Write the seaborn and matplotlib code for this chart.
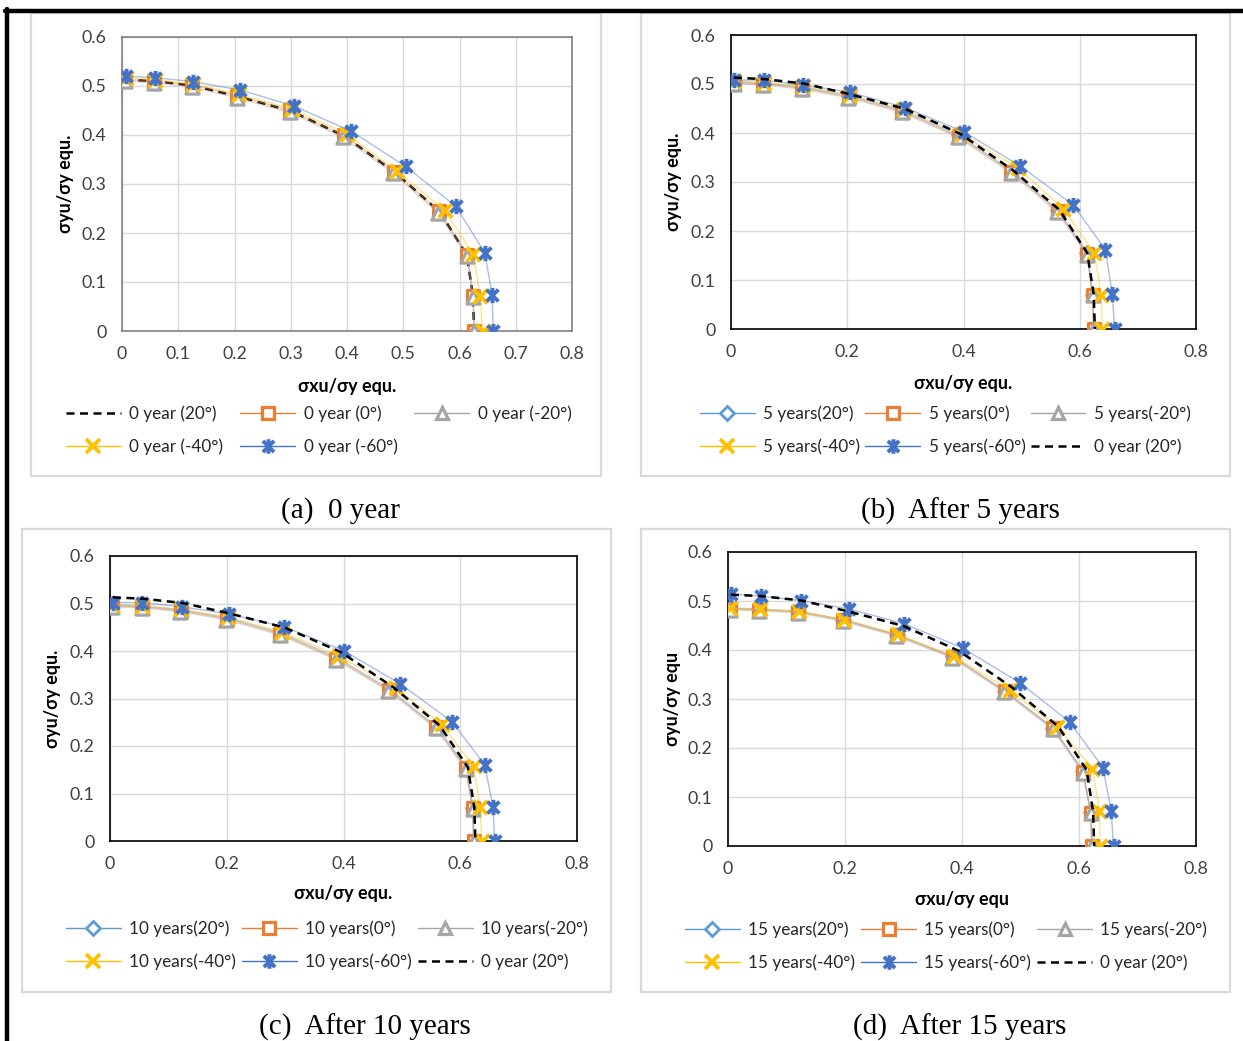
import matplotlib
matplotlib.use("Agg")
import matplotlib.pyplot as plt
import seaborn as sns
import pandas as pd
import numpy as np
from matplotlib.patches import Rectangle
from matplotlib.lines import Line2D
from matplotlib.path import Path

sns.set_theme(style="white")
plt.rcParams['font.family'] = ['Lato', 'DejaVu Sans']

# ---------------- data ----------------
# reference curve "0 year (20°)"
base_x = [0.005, 0.057, 0.125, 0.205, 0.300, 0.395, 0.485, 0.565, 0.613, 0.624, 0.626]
base_y = [0.513, 0.510, 0.501, 0.479, 0.449, 0.398, 0.324, 0.243, 0.155, 0.071, 0.0]

# panel (a) 0 year
a0_x = [0.005, 0.057, 0.125, 0.205, 0.298, 0.394, 0.484, 0.564, 0.614, 0.624, 0.626]
a0_y = [0.513, 0.510, 0.502, 0.480, 0.450, 0.399, 0.325, 0.244, 0.156, 0.072, 0.0]
am20_x = [0.005, 0.057, 0.124, 0.204, 0.298, 0.393, 0.482, 0.562, 0.613, 0.624, 0.626]
am20_y = [0.510, 0.507, 0.498, 0.476, 0.446, 0.395, 0.322, 0.241, 0.153, 0.070, 0.0]
am40_x = [0.007, 0.058, 0.127, 0.208, 0.302, 0.400, 0.488, 0.574, 0.624, 0.637, 0.641]
am40_y = [0.516, 0.513, 0.504, 0.483, 0.453, 0.402, 0.327, 0.246, 0.157, 0.072, 0.0]
am60_x = [0.007, 0.058, 0.126, 0.210, 0.306, 0.407, 0.504, 0.593, 0.645, 0.658, 0.660]
am60_y = [0.520, 0.517, 0.509, 0.492, 0.459, 0.408, 0.336, 0.255, 0.160, 0.073, 0.0]

# panel (b) 5 years
b20_x = [0.005, 0.055, 0.123, 0.203, 0.296, 0.393, 0.483, 0.563, 0.613, 0.622, 0.624]
b20_y = [0.505, 0.502, 0.494, 0.476, 0.446, 0.395, 0.323, 0.242, 0.155, 0.070, 0.0]
b0_x = [0.005, 0.055, 0.123, 0.203, 0.295, 0.392, 0.482, 0.562, 0.613, 0.622, 0.624]
b0_y = [0.503, 0.500, 0.492, 0.474, 0.444, 0.393, 0.321, 0.241, 0.154, 0.070, 0.0]
bm20_x = [0.005, 0.055, 0.122, 0.202, 0.294, 0.391, 0.481, 0.561, 0.612, 0.622, 0.624]
bm20_y = [0.501, 0.498, 0.490, 0.472, 0.442, 0.391, 0.319, 0.239, 0.152, 0.069, 0.0]
bm40_x = [0.006, 0.056, 0.124, 0.205, 0.298, 0.397, 0.494, 0.572, 0.625, 0.637, 0.639]
bm40_y = [0.506, 0.503, 0.495, 0.478, 0.448, 0.397, 0.328, 0.245, 0.155, 0.070, 0.0]
bm60_x = [0.005, 0.056, 0.124, 0.205, 0.299, 0.401, 0.497, 0.589, 0.644, 0.656, 0.660]
bm60_y = [0.508, 0.508, 0.498, 0.483, 0.452, 0.402, 0.333, 0.253, 0.162, 0.072, 0.0]

# panel (c) 10 years
c20_x = [0.000, 0.054, 0.121, 0.201, 0.293, 0.389, 0.479, 0.560, 0.611, 0.622, 0.624]
c20_y = [0.497, 0.495, 0.487, 0.470, 0.438, 0.386, 0.320, 0.240, 0.154, 0.070, 0.0]
c0_x = [0.003, 0.054, 0.121, 0.200, 0.292, 0.388, 0.478, 0.559, 0.610, 0.621, 0.623]
c0_y = [0.495, 0.493, 0.485, 0.468, 0.436, 0.384, 0.318, 0.239, 0.153, 0.069, 0.0]
cm20_x = [0.003, 0.054, 0.120, 0.199, 0.291, 0.387, 0.477, 0.558, 0.609, 0.621, 0.623]
cm20_y = [0.493, 0.491, 0.483, 0.466, 0.434, 0.382, 0.316, 0.237, 0.151, 0.068, 0.0]
cm40_x = [0.004, 0.055, 0.122, 0.202, 0.295, 0.392, 0.490, 0.568, 0.623, 0.634, 0.637]
cm40_y = [0.497, 0.495, 0.488, 0.471, 0.440, 0.389, 0.322, 0.246, 0.157, 0.071, 0.0]
cm60_x = [0.005, 0.055, 0.123, 0.204, 0.298, 0.400, 0.497, 0.586, 0.642, 0.656, 0.659]
cm60_y = [0.502, 0.502, 0.493, 0.478, 0.451, 0.401, 0.331, 0.251, 0.160, 0.072, 0.0]

# panel (d) 15 years
d20_x = [0.000, 0.053, 0.120, 0.197, 0.289, 0.384, 0.473, 0.556, 0.607, 0.620, 0.622]
d20_y = [0.486, 0.484, 0.479, 0.462, 0.431, 0.387, 0.317, 0.241, 0.153, 0.069, 0.0]
d0_x = [0.004, 0.053, 0.120, 0.197, 0.289, 0.384, 0.473, 0.556, 0.607, 0.620, 0.622]
d0_y = [0.484, 0.482, 0.478, 0.461, 0.430, 0.386, 0.316, 0.240, 0.152, 0.068, 0.0]
dm20_x = [0.004, 0.053, 0.119, 0.196, 0.288, 0.383, 0.472, 0.555, 0.606, 0.620, 0.622]
dm20_y = [0.482, 0.480, 0.476, 0.459, 0.428, 0.384, 0.314, 0.238, 0.150, 0.067, 0.0]
dm40_x = [0.004, 0.054, 0.121, 0.199, 0.291, 0.386, 0.482, 0.563, 0.623, 0.635, 0.636]
dm40_y = [0.485, 0.483, 0.479, 0.462, 0.432, 0.387, 0.318, 0.243, 0.158, 0.072, 0.0]
dm60_x = [0.005, 0.056, 0.124, 0.206, 0.300, 0.401, 0.499, 0.584, 0.641, 0.655, 0.659]
dm60_y = [0.514, 0.510, 0.501, 0.484, 0.454, 0.404, 0.333, 0.253, 0.160, 0.072, 0.0]

captions = ["(a)  0 year", "(b)  After 5 years", "(c)  After 10 years", "(d)  After 15 years"]
years = ["0 year", "5 years", "10 years", "15 years"]
angles = ["20°", "0°", "-20°", "-40°", "-60°"]
base_label = "0 year (20°)"

# ---------------- styles ----------------
# Excel-like asterisk: an X crossed by a vertical stroke
ASTERISK = Path([(-0.85, -0.85), (0.85, 0.85), (-0.85, 0.85), (0.85, -0.85), (0, -1.1), (0, 1.1)],
                [Path.MOVETO, Path.LINETO, Path.MOVETO, Path.LINETO, Path.MOVETO, Path.LINETO])

C20, C0, CM20, CM40, CM60 = "#5B9BD5", "#ED7D31", "#A5A5A5", "#FFC000", "#4472C4"
styles = {
    "20°": dict(color=C20, marker="D", mfc="white", ms=7, mew=2.0),
    "0°": dict(color=C0, marker="s", mfc="white", ms=9, mew=2.3),
    "-20°": dict(color=CM20, marker="^", mfc="white", ms=9.5, mew=2.3),
    "-40°": dict(color=CM40, marker="x", mfc="none", ms=10, mew=2.7),
    "-60°": dict(color=CM60, marker=ASTERISK, mfc="none", ms=11, mew=2.8),
}
FS = 12.3
LFS = 13

W, H = 1243, 1041
fig = plt.figure(figsize=(W / 100, H / 100), dpi=100)


def fx(px):
    return px / W


def fy(py):
    return 1 - py / H


def add_axes(x0, y0, x1, y1):
    return fig.add_axes([fx(x0), fy(y1), fx(x1) - fx(x0), (y1 - y0) / H])


def draw_series(ax, x, y, key, z):
    st = styles[key]
    df = pd.DataFrame({"x": x, "y": y})
    sns.lineplot(data=df, x="x", y="y", ax=ax, sort=False, estimator=None,
                 color=st["color"], lw=1.0, alpha=0.45, zorder=z)
    sns.scatterplot(data=df, x="x", y="y", ax=ax, marker=st["marker"], s=st["ms"] ** 2,
                    facecolor=st["mfc"] if st["mfc"] != "none" else st["color"],
                    edgecolor=st["color"], linewidth=st["mew"], zorder=z + 0.5, legend=False)


def draw_base(ax, z):
    df = pd.DataFrame({"x": base_x, "y": base_y})
    sns.lineplot(data=df, x="x", y="y", ax=ax, sort=False, estimator=None,
                 color="black", lw=1.8, zorder=z)
    ax.lines[-1].set_linestyle((0, (3.2, 2.2)))


def legend_handle(key, label):
    st = styles[key]
    if st["mfc"] == "none":
        return Line2D([], [], color=st["color"], lw=1.0, marker=st["marker"],
                      ms=st["ms"] * 0.95, mew=st["mew"], label=label)
    return Line2D([], [], color=st["color"], lw=1.0, marker=st["marker"], mfc="white",
                  mec=st["color"], ms=st["ms"] * 0.95, mew=st["mew"], label=label)


def style_axes(ax, xstep, spine_color, ylab, xlab, ylab_x, xlab_y):
    ax.set_xlim(0, 0.8)
    ax.set_ylim(0, 0.6)
    xt = np.round(np.arange(0, 0.8001, xstep), 2)
    ax.set_xticks(xt)
    ax.set_yticks([0, 0.1, 0.2, 0.3, 0.4, 0.5, 0.6])
    ax.set_xticklabels([f"{v:g}" for v in xt])
    ax.set_yticklabels(["0", "0.1", "0.2", "0.3", "0.4", "0.5", "0.6"])
    ax.grid(True, color="#D9D9D9", lw=1.0)
    ax.set_axisbelow(True)
    for s in ax.spines.values():
        s.set_visible(True)
        s.set_color(spine_color)
        s.set_linewidth(1.2)
    ax.tick_params(axis="both", length=0, labelsize=FS + 0.5, labelcolor="#404040", pad=11)
    ax.set_ylabel(ylab, fontsize=LFS, fontweight="bold", color="black")
    ax.set_xlabel(xlab, fontsize=LFS, fontweight="bold", color="black")
    ax.yaxis.set_label_coords(ylab_x, 0.5)
    ax.xaxis.set_label_coords(0.5, xlab_y)
    ax.set_facecolor("white")


def row_major(h):
    # matplotlib fills legend columns first; reorder so entries read row by row
    rows, ncol = 2, 3
    grid = [[None] * ncol for _ in range(rows)]
    for idx, item in enumerate(h):
        grid[idx // ncol][idx % ncol] = item
    out = []
    for c in range(ncol):
        for r in range(rows):
            if grid[r][c] is not None:
                out.append(grid[r][c])
    return out


# outer borders of the document
fig.add_artist(Line2D([fx(5), fx(1243)], [fy(11), fy(11)], color="black", lw=3.2))
fig.add_artist(Line2D([fx(7), fx(7)], [fy(9), fy(1041)], color="black", lw=3.2))

# panel boxes
boxes = [(31, 13, 601, 476), (641, 13, 1230, 476), (22, 529, 611, 992), (641, 529, 1230, 992)]
for (x0, y0, x1, y1) in boxes:
    fig.add_artist(Rectangle((fx(x0), fy(y1)), fx(x1) - fx(x0), (y1 - y0) / H,
                             transform=fig.transFigure, fill=False, edgecolor="#D9D9D9", lw=1.6))

axes_px = [(122, 37, 572, 331), (731, 35, 1196, 329), (110, 556, 577, 841), (728, 552, 1196, 846)]
ylabs = ["σyu/σy equ.", "σyu/σy equ.", "σyu/σy equ.", "σyu/σy equ"]
xlabs = ["σxu/σy equ.", "σxu/σy equ.", "σxu/σy equ.", "σxu/σy equ"]
ylab_xs = [-0.107, -0.105, -0.105, -0.100]
xlab_ys = [-0.16, -0.156, -0.154, -0.153]
legend_anchor = [(66, 405), (700, 405), (66, 920), (685, 921)]
legend_colsp = [1.0, 0.3, 0.35, 0.35]
caption_pos = [(340, 511), (960, 511), (365, 1027), (960, 1027)]

panel_series = [
    None,
    [(b20_x, b20_y), (b0_x, b0_y), (bm20_x, bm20_y), (bm40_x, bm40_y), (bm60_x, bm60_y)],
    [(c20_x, c20_y), (c0_x, c0_y), (cm20_x, cm20_y), (cm40_x, cm40_y), (cm60_x, cm60_y)],
    [(d20_x, d20_y), (d0_x, d0_y), (dm20_x, dm20_y), (dm40_x, dm40_y), (dm60_x, dm60_y)],
]
panel_a = [(a0_x, a0_y), (am20_x, am20_y), (am40_x, am40_y), (am60_x, am60_y)]

for i in range(4):
    ax = add_axes(*axes_px[i])
    if i == 0:
        draw_base(ax, 2)
        handles = [Line2D([], [], color="black", lw=1.8, ls=(0, (3.2, 2.2)), label=base_label)]
        for k, (sx, sy) in zip(angles[1:], panel_a):
            draw_series(ax, sx, sy, k, 3 + angles.index(k))
            handles.append(legend_handle(k, f"{years[0]} ({k})"))
        style_axes(ax, 0.1, "#808080", ylabs[i], xlabs[i], ylab_xs[i], xlab_ys[i])
    else:
        handles = []
        for k, (sx, sy) in zip(angles, panel_series[i]):
            draw_series(ax, sx, sy, k, 2 + angles.index(k))
            handles.append(legend_handle(k, f"{years[i]}({k})"))
        draw_base(ax, 9)
        handles.append(Line2D([], [], color="black", lw=1.8, ls=(0, (3.2, 2.2)), label=base_label))
        style_axes(ax, 0.2, "black", ylabs[i], xlabs[i], ylab_xs[i], xlab_ys[i])
    lx, ly = legend_anchor[i]
    fig.legend(handles=row_major(handles), loc="upper left", bbox_to_anchor=(fx(lx), fy(ly)),
               bbox_transform=fig.transFigure, ncol=3, frameon=False, fontsize=FS,
               handlelength=3.2, handletextpad=0.5, columnspacing=legend_colsp[i], labelspacing=1.0,
               borderpad=0, borderaxespad=0, numpoints=1, labelcolor="#262626")
    cx, cy = caption_pos[i]
    fig.text(fx(cx), fy(cy), captions[i], ha="center", va="center", fontsize=21,
             family=["Liberation Serif", "DejaVu Serif"], color="black")

fig.savefig("out.png", dpi=100, facecolor="white")
